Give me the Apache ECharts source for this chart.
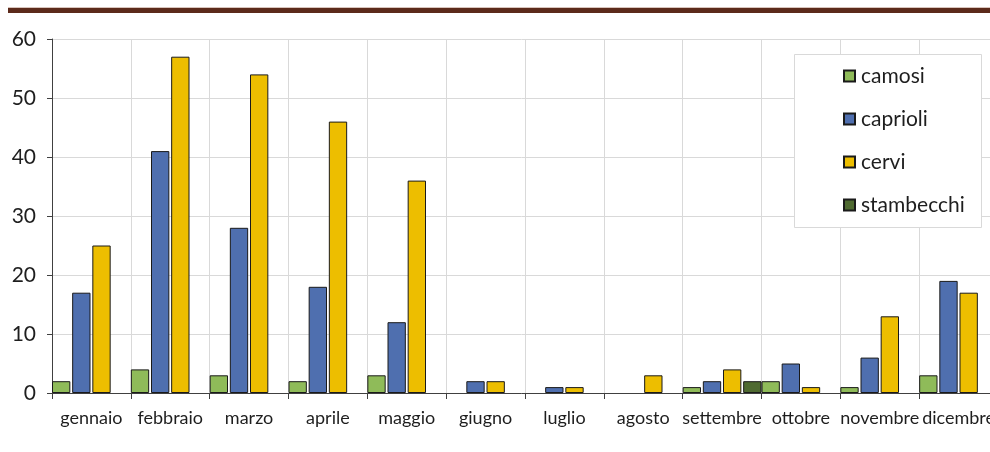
<!DOCTYPE html>
<html><head><meta charset="utf-8">
<script src="https://cdn.jsdelivr.net/npm/echarts@6/dist/echarts.min.js"></script>
<style>html,body{margin:0;padding:0;background:#fff}#c{width:990px;height:452px}</style>
</head><body><div id="c"></div>
<script>
const months = ['gennaio','febbraio','marzo','aprile','maggio','giugno','luglio','agosto','settembre','ottobre','novembre','dicembre'];
const camosi     = [2, 4, 3, 2, 3, 0, 0, 0, 1, 2, 1, 3];
const caprioli   = [17, 41, 28, 18, 12, 2, 1, 0, 2, 5, 6, 19];
const cervi      = [25, 57, 54, 46, 36, 2, 1, 3, 4, 1, 13, 17];
const stambecchi = [0, 0, 0, 0, 0, 0, 0, 0, 2, 0, 0, 0];
const yTicks = [0, 10, 20, 30, 40, 50, 60];

const seriesDefs = [
  {name: 'camosi', data: camosi, color: '#8fbb59'},
  {name: 'caprioli', data: caprioli, color: '#4f6faf'},
  {name: 'cervi', data: cervi, color: '#edbe00'},
  {name: 'stambecchi', data: stambecchi, color: '#4f6a31'}
];
const FONT = 'Lato';
const chart = echarts.init(document.getElementById('c'), null, {renderer: 'canvas'});
chart.setOption({
  animation: false,
  textStyle: {fontFamily: FONT},
  graphic: [
    {type: 'rect', shape: {x: 8, y: 7, width: 990, height: 1}, style: {fill: '#d8c4bc'}, z: 5},
    {type: 'rect', shape: {x: 8, y: 8, width: 990, height: 5}, style: {fill: '#5c2a1b'}, z: 5},
    {type: 'rect', shape: {x: 794.5, y: 54.5, width: 187, height: 173}, style: {fill: '#fff', stroke: '#d9d9d9', lineWidth: 1}, z: 10}
  ],
  legend: {
    orient: 'vertical', left: 838, top: 60, z: 20,
    icon: 'rect', itemWidth: 11, itemHeight: 11, itemGap: 21,
    textStyle: {fontFamily: FONT, fontSize: 21, color: '#1e1e1e', lineHeight: 22, padding: [0, 0, 0, 1]},
    data: seriesDefs.map(s => s.name)
  },
  grid: {left: 52, width: 946, top: 39, bottom: 59, containLabel: false, outerBoundsMode: 'none'},
  xAxis: {
    type: 'category', data: months,
    axisLine: {lineStyle: {color: '#404040', width: 1}},
    axisTick: {show: true, length: 6, lineStyle: {color: '#404040'}},
    axisLabel: {fontSize: 18, color: '#1e1e1e', margin: 16, interval: 0, fontFamily: FONT, hideOverlap: false},
    splitLine: {show: true, lineStyle: {color: '#d9d9d9'}}
  },
  yAxis: {
    type: 'value', min: yTicks[0], max: yTicks[yTicks.length - 1], interval: 10,
    axisLine: {show: true, lineStyle: {color: '#404040'}},
    axisTick: {show: true, length: 5, lineStyle: {color: '#404040'}},
    axisLabel: {fontSize: 21, color: '#1e1e1e', margin: 16, fontFamily: FONT},
    splitLine: {show: true, lineStyle: {color: '#d9d9d9'}}
  },
  series: seriesDefs.map(s => ({
    name: s.name, type: 'bar',
    data: s.data.map(v => v === 0 ? '-' : v),
    barGap: '10%', barCategoryGap: '0%',
    itemStyle: {color: s.color, borderColor: '#1a1a1a', borderWidth: 1}
  }))
});
</script></body></html>
